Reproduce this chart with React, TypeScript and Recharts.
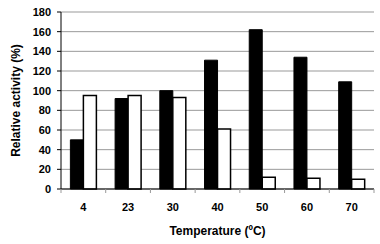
import React from "react";
import { BarChart, Bar, XAxis, YAxis, CartesianGrid } from "recharts";

const temperatures = ["4", "23", "30", "40", "50", "60", "70"];
const blackSeries = [50, 92, 100, 131, 162, 134, 109];
const whiteSeries = [95, 95, 93, 61, 12, 11, 10];
const yTicks = [0, 20, 40, 60, 80, 100, 120, 140, 160, 180];

const data = temperatures.map((t, i) => ({
  temp: t,
  black: blackSeries[i],
  white: whiteSeries[i],
}));

const font = "'Liberation Sans', Arial, sans-serif";

function XTick(props: any) {
  const { x, y, payload, index } = props;
  const half = payload && payload.offset ? payload.offset : 22.36;
  return (
    <g>
      <line x1={x - half} y1={y - 8} x2={x - half} y2={y - 4} stroke="#999" />
      {index === temperatures.length - 1 && (
        <line x1={x + half} y1={y - 8} x2={x + half} y2={y - 4} stroke="#999" />
      )}
      <text
        x={x}
        y={y + 14}
        textAnchor="middle"
        fontFamily={font}
        fontWeight="bold"
        fontSize={11}
        fill="#000"
      >
        {payload.value}
      </text>
    </g>
  );
}

export default function App() {
  return (
    <div style={{ position: "absolute", left: 0, top: 0, background: "#fff" }}>
      <BarChart
        width={380}
        height={244}
        data={data}
        margin={{ top: 12, right: 6, left: 0, bottom: 0 }}
        barCategoryGap="21%"
        barGap={0}
      >
        <CartesianGrid vertical={false} stroke="#999" />
        <XAxis
          dataKey="temp"
          height={55}
          tickLine={false}
          axisLine={{ stroke: "#000" }}
          tick={<XTick />}
          interval={0}
          label={{
            value: "Temperature (ºC)",
            position: "insideBottom",
            offset: 9,
            style: { fontFamily: font, fontWeight: "bold", fontSize: 12, fill: "#000" },
          }}
        />
        <YAxis
          width={61}
          domain={[0, 180]}
          ticks={yTicks}
          interval={0}
          tickSize={4}
          tickMargin={6}
          tickLine={{ stroke: "#000" }}
          axisLine={{ stroke: "#000" }}
          tick={{ fontFamily: font, fontWeight: "bold", fontSize: 11, fill: "#000" }}
          label={{
            value: "Relative activity (%)",
            angle: -90,
            position: "insideLeft",
            offset: 16,
            style: {
              fontFamily: font,
              fontWeight: "bold",
              fontSize: 12,
              fill: "#000",
              textAnchor: "middle",
            },
          }}
        />
        <YAxis
          yAxisId="right"
          orientation="right"
          width={0}
          tick={false}
          tickLine={false}
          axisLine={{ stroke: "#999" }}
        />
        <Bar dataKey="black" fill="#000" stroke="#000" strokeWidth={1} isAnimationActive={false} />
        <Bar dataKey="white" fill="#fff" stroke="#000" strokeWidth={1.5} isAnimationActive={false} />
      </BarChart>
    </div>
  );
}
